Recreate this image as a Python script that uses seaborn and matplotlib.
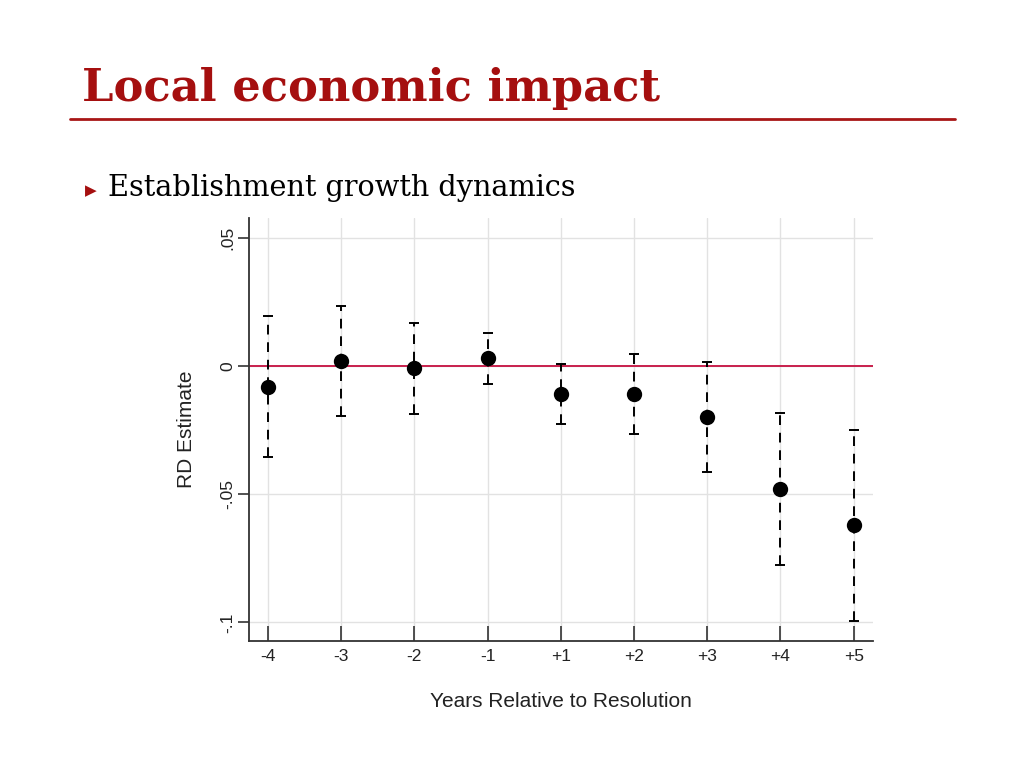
import pandas as pd
import matplotlib
matplotlib.use("Agg")
import matplotlib.pyplot as plt
import seaborn as sns

# --- Data ---
years = ["-4", "-3", "-2", "-1", "+1", "+2", "+3", "+4", "+5"]
estimate = [-0.0082, 0.0021, -0.0008, 0.0031, -0.0109, -0.0109, -0.0199, -0.0481, -0.0622]
ci_low = [-0.0355, -0.0195, -0.0188, -0.0070, -0.0226, -0.0266, -0.0413, -0.0775, -0.0995]
ci_high = [0.0196, 0.0234, 0.0168, 0.0130, 0.0008, 0.0047, 0.0017, -0.0184, -0.0248]

df = pd.DataFrame({"year": years, "est": estimate, "lo": ci_low, "hi": ci_high})
df["pos"] = range(len(df))

# --- Style ---
sns.set_style("ticks")
plt.rcParams["font.family"] = ["Liberation Sans", "DejaVu Sans"]

fig = plt.figure(figsize=(10.24, 7.68), dpi=100)
ax = fig.add_axes([0.243, 0.165, 0.610, 0.551])

ax.axhline(0, color="#c8204c", linewidth=1.4, zorder=2)

# dashed confidence intervals with caps
eb = ax.errorbar(df["pos"], df["est"],
                 yerr=[df["est"] - df["lo"], df["hi"] - df["est"]],
                 fmt="none", ecolor="black", elinewidth=1.4,
                 capsize=3.5, capthick=1.4, zorder=3)
eb[2][0].set_linestyle((0, (5, 4)))

sns.pointplot(data=df, x="year", y="est", order=years, linestyle="none",
              color="black", markers="o", markersize=9, errorbar=None,
              ax=ax, zorder=4)

# grid in both directions (seaborn turns off the categorical one)
ax.grid(True, axis="both", color="#e2e2e2", linewidth=1)
ax.set_axisbelow(True)

ax.set_xlim(-0.26, 8.27)
ax.set_ylim(-0.1074, 0.0578)
ax.set_yticks([0.05, 0, -0.05, -0.1])
ax.set_yticklabels([".05", "0", "-.05", "-.1"], rotation=90, va="center")
ax.set_xticks(df["pos"])
ax.set_xticklabels(years)

for s in ["top", "right"]:
    ax.spines[s].set_visible(False)
for s in ["left", "bottom"]:
    ax.spines[s].set_color("#333333")
    ax.spines[s].set_linewidth(1.3)

ax.tick_params(axis="both", width=1.2, color="#333333",
               labelsize=12.5, labelcolor="#222222")
ax.tick_params(axis="y", direction="out", length=8, pad=2)
ax.tick_params(axis="x", direction="in", length=11, pad=5.5)

ax.set_xlabel("Years Relative to Resolution", fontsize=15, labelpad=20, color="#222222")
ax.set_ylabel("RD Estimate", fontsize=15, labelpad=17, color="#222222")

# --- Slide title and bullet ---
fig.text(0.080, 0.885, "Local economic impact", family="DejaVu Serif",
         fontweight="bold", fontsize=32.2, color="#a50f0f", va="center", ha="left")
fig.add_artist(plt.Line2D([0.068, 0.933], [0.845, 0.845], color="#a81616",
                          linewidth=2, transform=fig.transFigure))
fig.text(0.083, 0.752, "\u25B6", family="DejaVu Sans", fontsize=11,
         color="#a50f0f", va="center", ha="left")
fig.text(0.105, 0.755, "Establishment growth dynamics", family="DejaVu Serif",
         fontsize=20.7, color="black", va="center", ha="left")

fig.savefig("out.png", dpi=100)
